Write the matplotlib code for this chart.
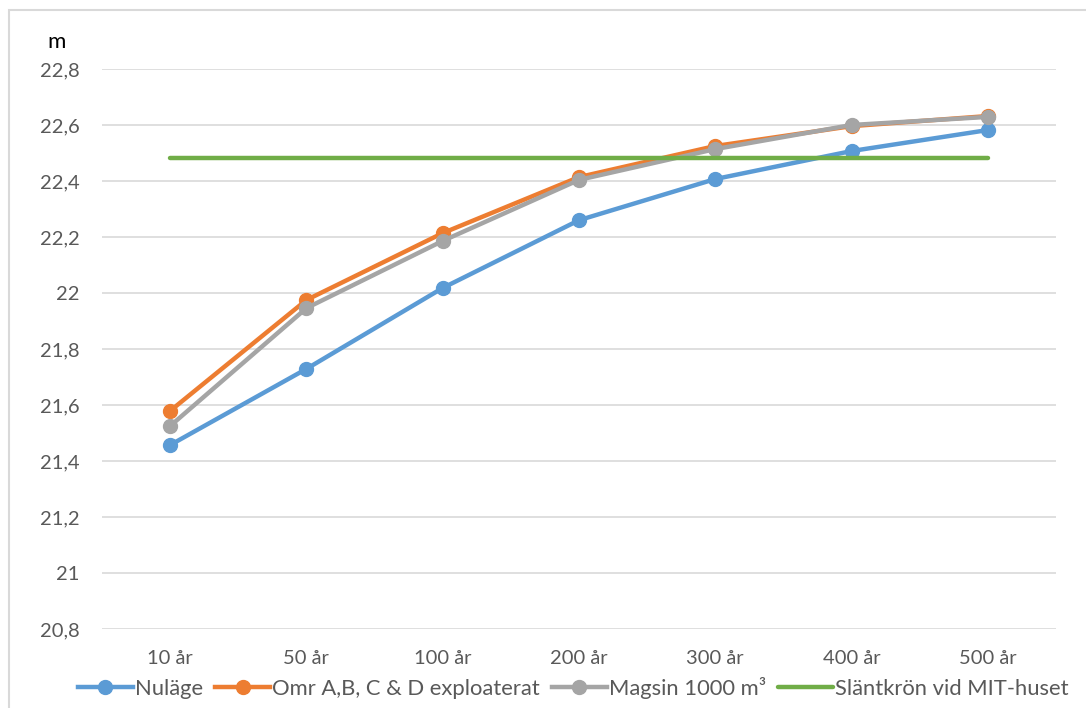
import matplotlib
matplotlib.use("Agg")
import matplotlib.pyplot as plt
from matplotlib.patches import Rectangle

categories = ["10 år", "50 år", "100 år", "200 år", "300 år", "400 år", "500 år"]
nulage = [21.457, 21.729, 22.018, 22.260, 22.407, 22.507, 22.582]
omr = [21.579, 21.975, 22.214, 22.414, 22.525, 22.596, 22.632]
magasin = [21.525, 21.946, 22.186, 22.404, 22.514, 22.600, 22.629]
slantkron = [22.482] * 7
yticks = [20.8, 21.0, 21.2, 21.4, 21.6, 21.8, 22.0, 22.2, 22.4, 22.6, 22.8]
ytick_labels = ["20,8", "21", "21,2", "21,4", "21,6", "21,8", "22", "22,2", "22,4", "22,6", "22,8"]

plt.rcParams['font.family'] = ['Lato', 'DejaVu Sans']
txt = '#595959'

fig = plt.figure(figsize=(10.86, 7.08), dpi=100)
ax = fig.add_axes([102/1086, 1 - 629/708, (1056-102)/1086, (629-69)/708])

x = list(range(len(categories)))
lw = 3.2
ms = 10
ax.plot(x, nulage, color='#5B9BD5', lw=lw, marker='o', ms=ms, label='Nuläge', zorder=3)
ax.plot(x, omr, color='#ED7D31', lw=lw, marker='o', ms=ms, label='Omr A,B, C & D exploaterat', zorder=4)
ax.plot(x, magasin, color='#A5A5A5', lw=lw, marker='o', ms=ms, label='Magsin 1000 m³', zorder=5)
ax.plot(x, slantkron, color='#70AD47', lw=lw, label='Släntkrön vid MIT-huset', zorder=6, solid_capstyle='round')

ax.set_xlim(-0.5, len(categories) - 0.5)
ax.set_ylim(20.8, 22.8)
ax.set_yticks(yticks)
ax.set_yticklabels(ytick_labels)
ax.set_xticks(x)
ax.set_xticklabels(categories)
ax.grid(axis='y', color='#D9D9D9', lw=1.2)
ax.set_axisbelow(True)
for s in ax.spines.values():
    s.set_visible(False)
ax.tick_params(axis='both', length=0, labelsize=14.5, colors=txt)
ax.tick_params(axis='y', pad=16)
ax.tick_params(axis='x', pad=15)

fig.text(57/1086, 1 - 42/708, 'm', fontsize=16, color='black', ha='center', va='center')

leg = fig.legend(loc='center', bbox_to_anchor=(0.528, 1 - 688/708), ncol=4, frameon=False,
                 fontsize=15.8, handlelength=2.5, columnspacing=0.55, handletextpad=0.1,
                 labelcolor=txt)

fig.patches.append(Rectangle((9/1086, -0.1), 1.2, 1 - 10/708 + 0.1, transform=fig.transFigure,
                             fill=False, edgecolor='#D9D9D9', lw=1.5))

fig.savefig('out.png', dpi=100)
